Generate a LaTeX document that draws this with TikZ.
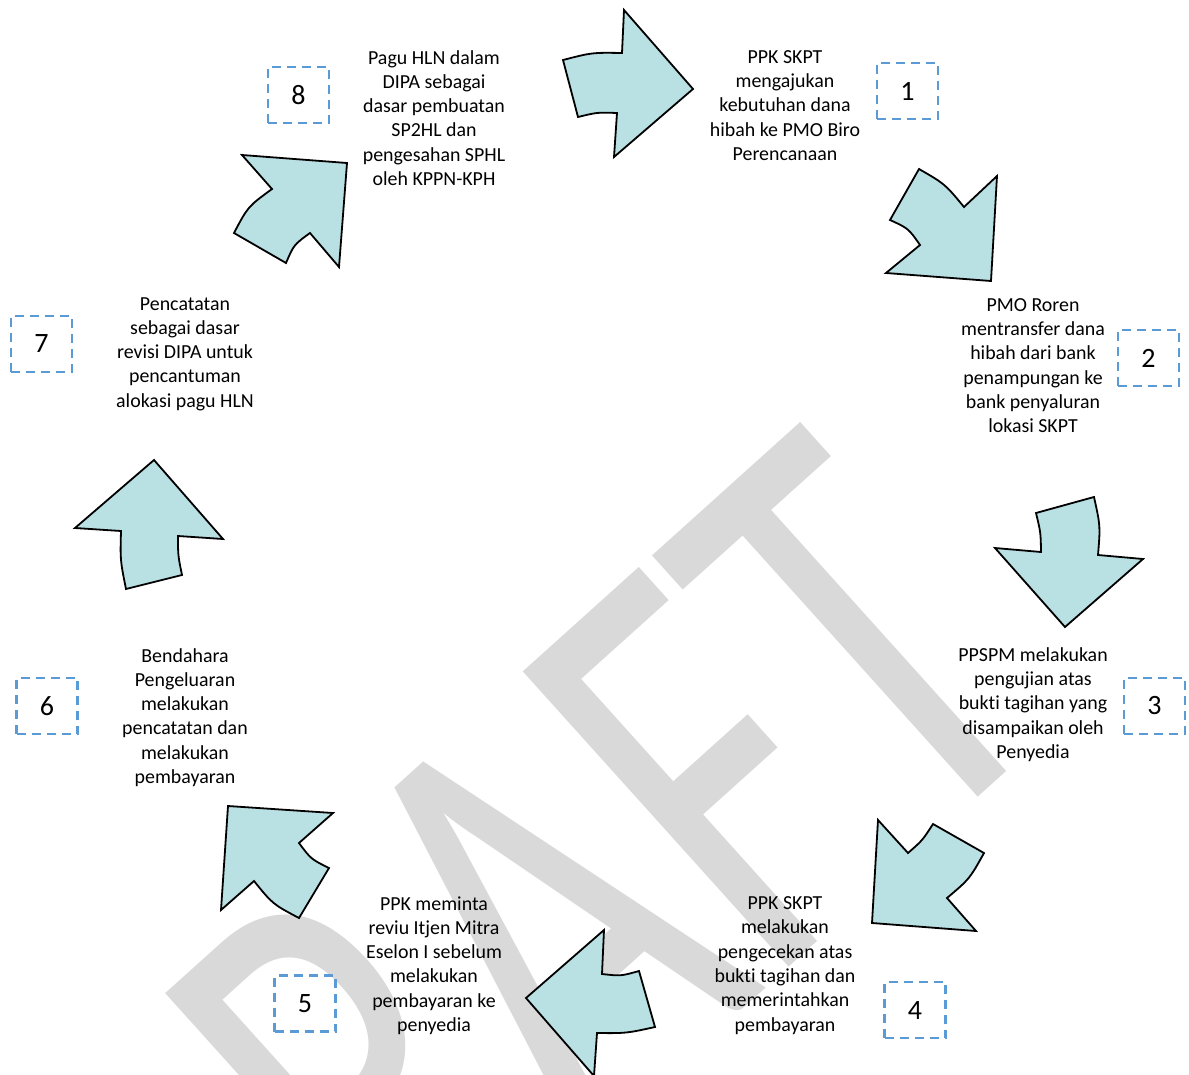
\documentclass[tikz,border=0pt]{standalone}
\usepackage{fontspec}
\setmainfont{Carlito}[Ligatures=NoCommon]
\definecolor{arrowfill}{RGB}{185,224,227}
\definecolor{boxblue}{RGB}{91,155,213}
\definecolor{wmgray}{RGB}{217,217,217}
\tikzset{
  flowarrow/.style={fill=arrowfill, draw=black, line width=1.8pt, line join=miter},
  steptext/.style={align=center, font=\fontsize{19.9}{24.3}\selectfont, inner sep=0pt},
  numbox/.style={draw=boxblue, line width=2.6pt, dash pattern=on 9pt off 6pt,
    minimum width=61pt, minimum height=56pt, inner sep=0pt, font=\fontsize{28}{28}\selectfont},
  watermark/.style={text=wmgray, font=\fontsize{430}{430}\selectfont, inner sep=0pt}
}
\begin{document}
\begin{tikzpicture}[x=1pt,y=-1pt]
\fill[white] (0,0) rectangle (1189,1074);
\useasboundingbox (0,0) rectangle (1189,1074);
% watermark
\node[watermark, rotate=42, yscale=1.44, anchor=base east] (wm) at (1070,714) {DRAFT};
% arrows
\draw[flowarrow] (563,60) .. controls (592,52.5) .. (622,53) -- (624,10) -- (693,89) -- (614,157) -- (617,113) .. controls (597.2,112.3) .. (578,117) -- cycle;
\draw[flowarrow] (919,169) .. controls (945,184) .. (964,207) -- (997,176) -- (991,281) -- (886,273) -- (920,245) .. controls (908.4,228.4) .. (890,220) -- cycle;
\draw[flowarrow] (1041,552) .. controls (1040.7,532.5) .. (1036,513) -- (1094,497) .. controls (1100.4,526) .. (1098,555) -- (1143,559) -- (1065,627) -- (995,548) -- cycle;
\draw[flowarrow] (878,820) -- (908,853) .. controls (922.5,840.3) .. (933,824) -- (984,853) .. controls (969.6,878.9) .. (947,898) -- (976,931) -- (872,923) -- cycle;
\draw[flowarrow] (604,930) -- (602,974) .. controls (620.8,976.1) .. (639,971) -- (655,1027) .. controls (626.3,1033.3) .. (597,1033) -- (594,1076) -- (526,998) -- cycle;
\draw[flowarrow] (228,806) -- (333,813) -- (299,843) .. controls (311,859.1) .. (329,868) -- (299,918) .. controls (272.7,904.1) .. (254,881) -- (221,910) -- cycle;
\draw[flowarrow] (154,460) -- (223,539) -- (178,536) .. controls (178,555.5) .. (182,575) -- (126,589) .. controls (120.2,560) .. (121,531) -- (75,528) -- cycle;
\draw[flowarrow] (242,155) -- (347,163) -- (339,267) -- (310,233) .. controls (293.9,244.7) .. (286,263) -- (234,233) .. controls (247.9,206.6) .. (272,189) -- cycle;
% texts
\node[steptext] (t1) at (785,105.5) {PPK SKPT\\mengajukan\\kebutuhan dana\\hibah ke PMO Biro\\Perencanaan};
\node[steptext] (t2) at (1033,365.5) {PMO Roren\\mentransfer dana\\hibah dari bank\\penampungan ke\\bank penyaluran\\lokasi SKPT};
\node[steptext] (t3) at (1033,704.5) {PPSPM melakukan\\pengujian atas\\bukti tagihan yang\\disampaikan oleh\\Penyedia};
\node[steptext] (t4) at (785,965.5) {PPK SKPT\\melakukan\\pengecekan atas\\bukti tagihan dan\\memerintahkan\\pembayaran};
\node[steptext] (t5) at (434,965.5) {PPK meminta\\reviu Itjen Mitra\\Eselon I sebelum\\melakukan\\pembayaran ke\\penyedia};
\node[steptext] (t6) at (185,717.5) {Bendahara\\Pengeluaran\\melakukan\\pencatatan dan\\melakukan\\pembayaran};
\node[steptext] (t7) at (185,354) {Pencatatan\\sebagai dasar\\revisi DIPA untuk\\pencantuman\\alokasi pagu HLN};
\node[steptext] (t8) at (434,118) {Pagu HLN dalam\\DIPA sebagai\\dasar pembuatan\\SP2HL dan\\pengesahan SPHL\\oleh KPPN-KPH};
% number boxes
\node[numbox] (n1) at (907.5,91) {1};
\node[numbox] (n2) at (1148.5,358) {2};
\node[numbox] (n3) at (1154.5,706) {3};
\node[numbox] (n4) at (915,1010) {4};
\node[numbox] (n5) at (305,1003.5) {5};
\node[numbox] (n6) at (47,706) {6};
\node[numbox] (n7) at (41.5,344) {7};
\node[numbox] (n8) at (298.5,95) {8};
\end{tikzpicture}
\end{document}
